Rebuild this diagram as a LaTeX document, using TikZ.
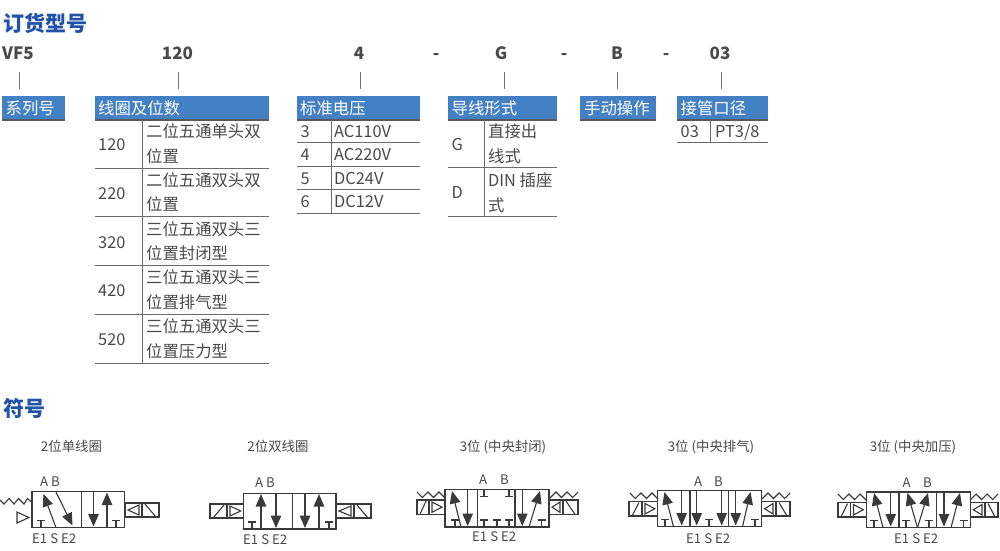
\documentclass[tikz,border=0pt]{standalone}
\usepackage{fontspec}
\setmainfont{Noto Sans CJK SC}
\usetikzlibrary{arrows.meta}
\definecolor{hdr}{HTML}{4480C4}
\definecolor{ttl}{HTML}{1F52A8}
\definecolor{ink}{HTML}{4A4A4A}
\definecolor{sym}{HTML}{3A3A3A}
\newcommand{\fsz}[1]{\fontsize{#1}{#1}\selectfont}
\tikzset{
  txt/.style={anchor=base west,inner sep=0pt,text=ink,font=\fsz{16.35}},
  ttlnode/.style={anchor=base west,inner sep=0pt,text=ttl,font=\bfseries\fsz{21}},
  codenode/.style={anchor=base,inner sep=0pt,text=ink,font=\bfseries\fsz{17}},
  hdrbox/.style={fill=hdr,draw=none,minimum height=23.5pt,inner sep=0pt,anchor=north west},
  hdrtxt/.style={anchor=base west,inner sep=0pt,text=white,font=\fsz{16.35}},
  tabrule/.style={draw=black!58,line width=1pt},
  hdrline/.style={draw=black!65,line width=1.2pt},
  tickline/.style={draw=black!55,line width=.9pt},
  vl/.style={draw=sym,line width=1.1pt},
  fl/.style={draw=sym,line width=1.1pt,-{Triangle[width=10.5pt,length=12.5pt]}},
  captxt/.style={anchor=base,inner sep=0pt,text=ink,font=\fsz{13.4}},
  porttxt/.style={anchor=base west,inner sep=0pt,text=ink,font=\fsz{13.2}},
}
% T exhaust mark, foot on body edge
\newcommand{\tup}[2]{\draw[vl] (#1,#2) -- ++(0,-7) (#1-4,#2-7) -- (#1+4,#2-7);}
\newcommand{\tdn}[2]{\draw[vl] (#1,#2) -- ++(0,7) (#1-4,#2+7) -- (#1+4,#2+7);}
\newcommand{\solL}[5]{% xl xm xr yt yb
  \draw[vl] (#1,#4) rectangle (#3,#5) (#2,#4) -- (#2,#5);
  \draw[vl] (#1+3,#5) -- (#2-3,#4+1);
  \draw[vl] (#2+3,#4+2) -- (#3-3,#4/2+#5/2) -- (#2+3,#5-2) -- cycle;}
\newcommand{\solR}[5]{% xl xm xr yt yb
  \draw[vl] (#1,#4) rectangle (#3,#5) (#2,#4) -- (#2,#5);
  \draw[vl] (#3-3,#5) -- (#2+3,#4+1);
  \draw[vl] (#2-3,#4+2) -- (#1+3,#4/2+#5/2) -- (#2-3,#5-2) -- cycle;}
\newcommand{\sprL}[2]{\draw[vl] (#1,#2) -- ++(5.3,5.5) -- ++(5.7,-5.5) -- ++(5.5,5.5) -- ++(5.5,-5.5) -- ++(6,6);}
\newcommand{\sprR}[2]{\draw[vl] (#1,#2) -- ++(-5.3,5.5) -- ++(-5.7,-5.5) -- ++(-5.5,5.5) -- ++(-5.5,-5.5) -- ++(-6,6);}
\begin{document}
\begin{tikzpicture}[x=1pt,y=-1pt]
\useasboundingbox (0,0) rectangle (1000,550);
\fill[white] (0,0) rectangle (1000,550);
\node[ttlnode] (t1) at (3,31) {订货型号};
\node[ttlnode] (t2) at (3,416) {符号};
% codes
\node[codenode] (cVF) at (18,59.5) {VF5};
\node[codenode] (c120) at (177.5,59.5) {120};
\node[codenode] (c4) at (359,59.5) {4};
\node[codenode] (d1) at (436,59.5) {-};
\node[codenode] (cG) at (501,59.5) {G};
\node[codenode] (d2) at (564,59.5) {-};
\node[codenode] (cB) at (617,59.5) {B};
\node[codenode] (d3) at (666,59.5) {-};
\node[codenode] (c03) at (720,59.5) {03};
\foreach \n/\x in {a/19,b/178,c/360,d/504,e/617,f/721}{
  \coordinate (\n0) at (\x,72); \coordinate (\n1) at (\x,89);
  \draw[tickline] (\n0) -- (\n1);}
% table 1
\node[hdrbox,minimum width=63pt] (h1) at (2,96) {};
\node[hdrtxt] (h1t) at (5.5,114) {系列号};
\draw[hdrline] (h1.south west) -- (h1.south east);
% table 2
\node[hdrbox,minimum width=174pt] (h2) at (95,96) {};
\node[hdrtxt] (h2t) at (98,114) {线圈及位数};
\draw[hdrline] (h2.south west) -- (h2.south east);
\draw[tabrule] (142,119.5) -- (142,363);
\foreach \y in {168,216.8,265.6,314.4,363}{\draw[tabrule] (95,\y) -- (269,\y);}
\foreach \c/\l/\m/\i [count=\k from 0] in {120/二位五通单头双/位置/0,220/二位五通双头双/位置/1,320/三位五通双头三/位置封闭型/2,420/三位五通双头三/位置排气型/3,520/三位五通双头三/位置压力型/4}{
  \node[txt] (r\k c) at (98,150.5+48.8*\k) {\c};
  \node[txt] (r\k a) at (146,137.5+48.8*\k) {\l};
  \node[txt] (r\k b) at (146,162+48.8*\k) {\m};
}
% table 3
\node[hdrbox,minimum width=123pt] (h3) at (297,96) {};
\node[hdrtxt] (h3t) at (300,114) {标准电压};
\draw[hdrline] (h3.south west) -- (h3.south east);
\draw[tabrule] (331,119.5) -- (331,213);
\foreach \y in {142.7,166,189.4,213}{\draw[tabrule] (297,\y) -- (420,\y);}
\foreach \c/\l [count=\k from 0] in {3/AC110V,4/AC220V,5/DC24V,6/DC12V}{
  \node[txt] (v\k c) at (300.5,137.3+23.4*\k) {\c};
  \node[txt] (v\k a) at (334,137.3+23.4*\k) {\l};
}
% table 4
\node[hdrbox,minimum width=108.5pt] (h4) at (448,96) {};
\node[hdrtxt] (h4t) at (451.5,114) {导线形式};
\draw[hdrline] (h4.south west) -- (h4.south east);
\draw[tabrule] (484,119.5) -- (484,216.7);
\foreach \y in {167.8,216.7}{\draw[tabrule] (448,\y) -- (556.5,\y);}
\node[txt] (gc) at (451.5,150) {G};
\node[txt] (ga) at (488,137.5) {直接出};
\node[txt] (gb) at (488,162) {线式};
\node[txt] (dc) at (451.5,198.5) {D};
\node[txt] (da) at (488,186.5) {DIN 插座};
\node[txt] (db) at (488,211) {式};
% table 5
\node[hdrbox,minimum width=75.5pt] (h5) at (580,96) {};
\node[hdrtxt] (h5t) at (584,114) {手动操作};
\draw[hdrline] (h5.south west) -- (h5.south east);
% table 6
\node[hdrbox,minimum width=91pt] (h6) at (677,96) {};
\node[hdrtxt] (h6t) at (680.5,114) {接管口径};
\draw[hdrline] (h6.south west) -- (h6.south east);
\draw[tabrule] (710.3,119.5) -- (710.3,142.7);
\draw[tabrule] (677,142.7) -- (768,142.7);
\node[txt] (p0) at (680.5,137.3) {03};
\node[txt] (p1) at (715,137.3) {PT3/8};
% captions
\node[captxt] (k1) at (71.5,451.5) {2位单线圈};
\node[captxt] (k2) at (278,451.5) {2位双线圈};
\node[captxt] (k3) at (503,451.5) {3位 (中央封闭)};
\node[captxt] (k4) at (711,451.5) {3位 (中央排气)};
\node[captxt] (k5) at (913,451.5) {3位 (中央加压)};
% ---- symbol 1
\draw[vl] (32,491.7) rectangle (124.5,527.7) (81.5,491.7) -- (81.5,527.7);
\draw[fl] (56,527.7) -- (43.5,494);
\draw[fl] (56,492) -- (72.5,525.5);
\tup{41}{527.7}
\draw[fl] (93.5,492) -- (93.5,526.5);
\draw[fl] (107,527.7) -- (107,492.5);
\tup{116}{527.7}
\solR{125}{142}{159}{503}{517}
\draw[vl] (0,500) -- (4,504) -- (9,498.5) -- (14,504) -- (18.5,498.5) -- (24,504) -- (27.5,498.5) -- (32,502.5);
\draw[vl] (29,517.5) -- (17,512) -- (17,523) -- cycle;
\node[porttxt] (s1a) at (40,486) {A B};
\node[porttxt] (s1e) at (32,543) {E1 S E2};
% ---- symbol 2
\draw[vl] (243.7,493.3) rectangle (336,529) (292.3,493.3) -- (292.3,529);
\draw[fl] (261,529) -- (261,494);
\draw[fl] (276,493.3) -- (276,528);
\tup{252}{529}
\draw[fl] (305,493.3) -- (305,528);
\draw[fl] (319,529) -- (319,494);
\tup{329}{529}
\solL{210}{227}{243.7}{504}{518}
\solR{336}{354}{371}{504}{518}
\node[porttxt] (s2a) at (255,487) {A B};
\node[porttxt] (s2e) at (243,544) {E1 S E2};
% ---- symbol 3
\draw[vl] (445,489.3) rectangle (549,527) (477.7,489.3) -- (477.7,527) (515,489.3) -- (515,527);
\draw[fl] (461,527) -- (452,491);
\draw[fl] (467.7,489.3) -- (467.7,526);
\tup{455}{527}
\tdn{484}{489.3}\tdn{509}{489.3}
\tup{484}{527}\tup{497}{527}\tup{509}{527}
\draw[fl] (522.3,489.3) -- (522.3,526);
\draw[fl] (529,527) -- (540,491);
\tup{541.7}{527}
\solL{417}{429}{445}{500}{514.3}
\solR{549}{563}{578}{500}{514.3}
\sprL{417}{492}
\sprR{578}{492}
\node[porttxt] (s3a) at (479,484.5) {A};
\node[porttxt] (s3b) at (500,484.5) {B};
\node[porttxt] (s3e) at (472,541) {E1 S E2};
% ---- symbol 4
\draw[vl] (657.7,490.7) rectangle (761.7,526.7) (690,490.7) -- (690,526.7) (728.3,490.7) -- (728.3,526.7);
\draw[fl] (673.5,526.7) -- (664.5,492);
\draw[fl] (681.7,490.7) -- (681.7,525.5);
\tup{665}{526.7}
\draw[fl] (696.7,490.7) -- (696.7,525.5);
\tup{709}{526.7}
\draw[fl] (721.7,490.7) -- (721.7,525.5);
\draw[fl] (735.7,490.7) -- (735.7,525.5);
\draw[fl] (742.5,526.7) -- (750.5,492);
\tup{755}{526.7}
\solL{629}{642}{657.7}{501.5}{516}
\solR{761.7}{776}{790}{501.5}{516}
\sprL{630}{493}
\sprR{790}{493}
\node[porttxt] (s4a) at (694,486) {A};
\node[porttxt] (s4b) at (714,486) {B};
\node[porttxt] (s4e) at (686,543) {E1 S E2};
% ---- symbol 5
\draw[vl] (866.3,492) rectangle (970.3,527.7) (899,492) -- (899,527.7) (936.7,492) -- (936.7,527.7);
\draw[fl] (883,527.7) -- (874,493);
\draw[fl] (890.7,492) -- (890.7,526.5);
\tup{874}{527.7}
\draw[fl] (917.5,527.7) -- (907.5,493);
\draw[fl] (917.5,527.7) -- (928,493);
\tup{906}{527.7}\tup{929}{527.7}
\draw[fl] (944,492) -- (944,526.5);
\draw[fl] (951,527.7) -- (960,493);
\tup{963.5}{527.7}
\solL{838}{850.5}{866.3}{502.5}{517}
\solR{970.3}{985}{998}{502.5}{517}
\sprL{838}{494}
\sprR{998}{494}
\node[porttxt] (s5a) at (902.5,487) {A};
\node[porttxt] (s5b) at (923,487) {B};
\node[porttxt] (s5e) at (894,543) {E1 S E2};
\end{tikzpicture}
\end{document}
